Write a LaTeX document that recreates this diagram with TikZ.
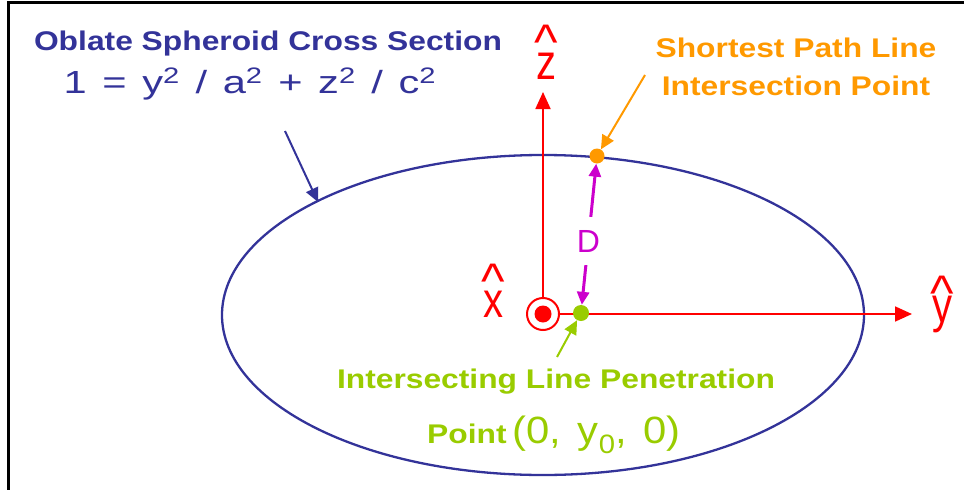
\documentclass[tikz,border=0pt]{standalone}
\usepackage{fontspec}
\setmainfont{Liberation Sans}
\usetikzlibrary{arrows.meta}
\definecolor{navy}{HTML}{333399}
\definecolor{orng}{HTML}{FF9900}
\definecolor{grn}{HTML}{99CC00}
\definecolor{mag}{HTML}{CC00CC}
\newcommand{\widetxt}[1]{\scalebox{1.177}[1]{#1}}
\newcommand{\sqtxt}[1]{\scalebox{0.8}[1]{#1}}
\newcommand{\eqsp}{\hspace{12pt}}
\begin{document}
\begin{tikzpicture}[x=1pt,y=-1pt,
  lbl/.style={inner sep=0pt, font=\fontsize{27}{38}\selectfont\bfseries, align=center},
  axlbl/.style={inner sep=0pt, red, anchor=south, align=center, font=\fontsize{50}{50}\selectfont},
  axis/.style={red, line width=1.8pt, -{Triangle[length=17pt,width=15pt]}},
  ptr/.style={line width=2pt, -{Triangle[length=14pt,width=13pt]}},
  dot/.style={circle, inner sep=0pt, minimum size=#1}]
\useasboundingbox (0,0) rectangle (964,490);
% frame (top and left)
\draw[line width=3pt] (964,2.5) -- (8.5,2.5) -- (8.5,490);
% ellipse
\draw[navy, line width=2.3pt] (543,315) ellipse [x radius=321, y radius=160];
% axes
\coordinate (O) at (543,314);
\node[draw=red, circle, line width=2pt, minimum size=32pt, inner sep=0pt] (xc) at (O) {};
\node[dot=17pt, fill=red] (xd) at (O) {};
\coordinate (ztip) at (543,92);
\coordinate (ytip) at (912,314);
\draw[axis] (xc.north) -- (ztip);
\draw[axis] (xc.east) -- (ytip);
% axis labels
\node[axlbl] (zl) at (546,80) {\textasciicircum\\[-30pt]\sqtxt{z}};
\node[axlbl] (xl) at (493,318) {\textasciicircum\\[-31pt]\sqtxt{x}};
\node[axlbl] (yl) at (942,333) {\textasciicircum\\[-38pt]\sqtxt{y}};
% points
\node[dot=16pt, fill=grn] (P0) at (581,313) {};
\node[dot=15pt, fill=orng] (P1) at (597,156) {};
% distance D
\draw[mag, line width=3pt, {Triangle[length=13pt,width=12pt]}-{Triangle[length=13pt,width=12pt]}]
  (P1) -- node[pos=0.55, fill=white, inner sep=0pt, minimum height=48pt, minimum width=24pt,
  font=\fontsize{32}{32}\selectfont] (D) {D} (P0);
% title and formula
\node[lbl, navy] (title) at (268,44) {\widetxt{Oblate Spheroid Cross Section}};
\node[inner sep=0pt, navy, anchor=base, font=\fontsize{32}{32}\selectfont] (eq) at (250,93)
  {\scalebox{1.3}[1]{1\eqsp=\eqsp y\textsuperscript{2}\eqsp/\eqsp a\textsuperscript{2}\eqsp+\eqsp z\textsuperscript{2}\eqsp/\eqsp c\textsuperscript{2}}};
\coordinate (eb0) at (285,131);
\coordinate (eb) at (318,202);
\draw[navy, ptr] (eb0) -- (eb);
% orange label
\node[lbl, orng] (olbl) at (796,67) {\widetxt{Shortest Path Line}\\\widetxt{Intersection Point}};
\coordinate (oa) at (645,75);
\draw[orng, ptr] (oa) -- (P1);
% green label
\node[lbl, grn] (glbl1) at (556,382) {\widetxt{Intersecting Line Penetration}};
\node[lbl, grn, anchor=base] (glbl2) at (554,443) {\widetxt{Point}\hspace{6pt}{\mdseries\fontsize{38}{38}\selectfont\scalebox{1.1}[1]{(0,\hspace{15pt}y\textsubscript{0},\hspace{15pt}0)}}};
\coordinate (ga) at (557,357);
\draw[grn, ptr] (ga) -- (P0);
\end{tikzpicture}
\end{document}
